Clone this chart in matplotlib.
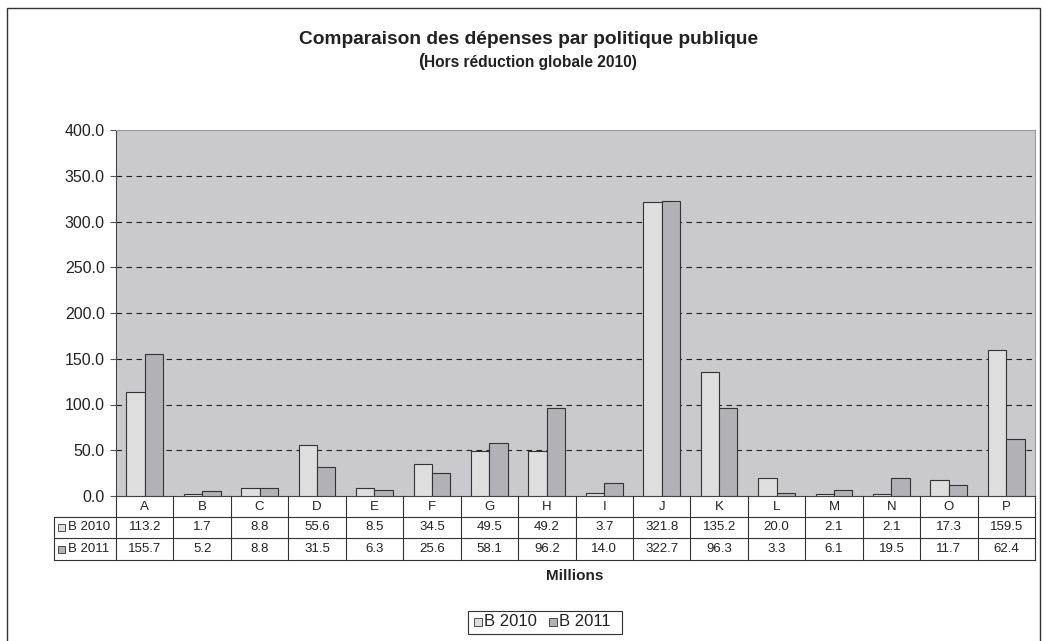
import matplotlib
matplotlib.use("Agg")
import matplotlib.pyplot as plt
from matplotlib.patches import Rectangle
from matplotlib.lines import Line2D
import numpy as np

plt.rcParams['font.family'] = ['Liberation Sans', 'DejaVu Sans']

categories = ["A", "B", "C", "D", "E", "F", "G", "H", "I", "J", "K", "L", "M", "N", "O", "P"]
b2010 = [113.2, 1.7, 8.8, 55.6, 8.5, 34.5, 49.5, 49.2, 3.7, 321.8, 135.2, 20.0, 2.1, 2.1, 17.3, 159.5]
b2011 = [155.7, 5.2, 8.8, 31.5, 6.3, 25.6, 58.1, 96.2, 14.0, 322.7, 96.3, 3.3, 6.1, 19.5, 11.7, 62.4]
series_names = ["B 2010", "B 2011"]
yticks = [0, 50, 100, 150, 200, 250, 300, 350, 400]

c2010 = "#dedede"
c2011 = "#b2b2b6"
bg = "#cacacc"

W, H = 1047, 641
fig = plt.figure(figsize=(W / 100, H / 100), dpi=100)

def fx(px):
    return px / W

def fy(py):
    return 1 - py / H

ax_l, ax_r, ax_t, ax_b = 116, 1035, 130, 496
ax = fig.add_axes([fx(ax_l), fy(ax_b), fx(ax_r - ax_l), (ax_b - ax_t) / H])
ax.set_facecolor(bg)

n = len(categories)
x = np.arange(n)
bw = 0.32
ax.bar(x - bw / 2, b2010, bw, color=c2010, edgecolor="#333333", linewidth=0.8, zorder=3)
ax.bar(x + bw / 2, b2011, bw, color=c2011, edgecolor="#333333", linewidth=0.8, zorder=3)

ax.set_xlim(-0.5, n - 0.5)
ax.set_ylim(0, 400)
ax.set_yticks(yticks)
ax.set_yticklabels([f"{v:.1f}" for v in yticks], fontsize=11.5, color="#222222")
ax.set_xticks([])
for v in yticks[1:-1]:
    ax.axhline(v, color="#222222", linestyle=(0, (5, 4)), linewidth=0.8, zorder=1)
ax.tick_params(axis="y", length=4, width=0.8, color="#555555", pad=4)
ax.spines["left"].set_color("#444444")
ax.spines["bottom"].set_color("#444444")
ax.spines["top"].set_color("#9a9a9a")
ax.spines["right"].set_color("#9a9a9a")
for s in ax.spines.values():
    s.set_linewidth(0.8)

# Table below the axes
row_y = [496, 517, 538, 560]
lab_l = 54
col_edges = [ax_l + (ax_r - ax_l) * i / n for i in range(n + 1)]
lc = "#333333"
lw = 0.8
for ry in row_y[1:]:
    fig.add_artist(Line2D([fx(lab_l), fx(ax_r)], [fy(ry)] * 2, color=lc, lw=lw))
for e in col_edges:
    fig.add_artist(Line2D([fx(e)] * 2, [fy(row_y[0]), fy(row_y[3])], color=lc, lw=lw))
fig.add_artist(Line2D([fx(lab_l)] * 2, [fy(row_y[1]), fy(row_y[3])], color=lc, lw=lw))

tfs = 9.5
for i, cat in enumerate(categories):
    cx = (col_edges[i] + col_edges[i + 1]) / 2
    fig.text(fx(cx), fy((row_y[0] + row_y[1]) / 2), cat, ha="center", va="center", fontsize=tfs, color="#222222")
    fig.text(fx(cx), fy((row_y[1] + row_y[2]) / 2), f"{b2010[i]:.1f}", ha="center", va="center", fontsize=tfs, color="#222222")
    fig.text(fx(cx), fy((row_y[2] + row_y[3]) / 2), f"{b2011[i]:.1f}", ha="center", va="center", fontsize=tfs, color="#222222")

for r, (name, col) in enumerate(zip(series_names, [c2010, c2011])):
    cyp = (row_y[r + 1] + row_y[r + 2]) / 2
    fig.add_artist(Rectangle((fx(58), fy(cyp + 3.5)), fx(7), 7 / H, facecolor=col, edgecolor="#333333", lw=0.6))
    fig.text(fx(68), fy(cyp), name, ha="left", va="center", fontsize=tfs, color="#222222")

# Titles
fig.text(fx(529), fy(39), "Comparaison des dépenses par politique publique", ha="center", va="center",
         fontsize=13.8, fontweight="bold", color="#222222")
fig.text(fx(424), fy(63), "Hors réduction globale 2010)", ha="left", va="center",
         fontsize=11.2, fontweight="bold", color="#222222")
fig.text(fx(424), fy(62), "(", ha="right", va="center", fontsize=13.5, fontweight="bold", color="#222222")

fig.text(fx(575), fy(576), "Millions", ha="center", va="center", fontsize=11, fontweight="bold", color="#222222")

# Legend
fig.add_artist(Rectangle((fx(468), fy(634)), fx(622 - 468), 23 / H, facecolor="white", edgecolor="#333333", lw=0.8))
for name, col, px in zip(series_names, [c2010, c2011], [474, 549]):
    fig.add_artist(Rectangle((fx(px), fy(626)), fx(8), 8 / H, facecolor=col, edgecolor="#333333", lw=0.6))
    fig.text(fx(px + 10), fy(622), name, ha="left", va="center", fontsize=12, color="#222222")

# Outer frame
fig.add_artist(Rectangle((fx(7), fy(660)), fx(1040 - 7), (660 - 8) / H, facecolor="none", edgecolor="#333333", lw=1.0))

fig.savefig("out.png", dpi=100)
